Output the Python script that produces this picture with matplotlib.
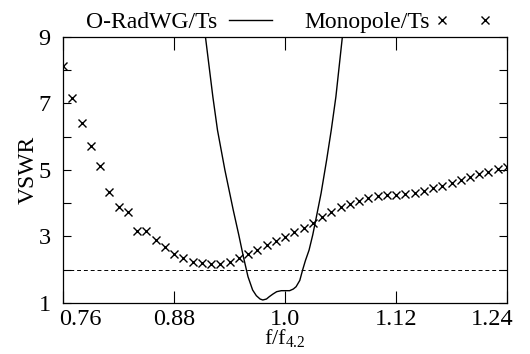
import matplotlib
matplotlib.use('Agg')
import matplotlib.pyplot as plt
from matplotlib.lines import Line2D
from matplotlib.legend_handler import HandlerLine2D
from matplotlib.transforms import ScaledTranslation

plt.rcParams['font.family'] = ['Liberation Serif', 'DejaVu Serif']
plt.rcParams['mathtext.fontset'] = 'custom'
plt.rcParams['mathtext.rm'] = 'Liberation Serif'
plt.rcParams['font.size'] = 17

# Monopole/Ts, one sample every 0.01 from 0.76 to 1.24
mono_f = [round(0.76 + 0.01 * i, 2) for i in range(49)]
mono_vswr = [8.14, 7.17, 6.40, 5.73, 5.12, 4.34, 3.90, 3.75, 3.17, 3.17,
             2.89, 2.67, 2.47, 2.35, 2.24, 2.19, 2.17, 2.18, 2.24, 2.34,
             2.48, 2.60, 2.74, 2.86, 2.99, 3.13, 3.27, 3.42, 3.58, 3.73,
             3.88, 3.97, 4.08, 4.16, 4.21, 4.24, 4.26, 4.28, 4.32, 4.38,
             4.45, 4.51, 4.60, 4.69, 4.79, 4.89, 4.95, 5.03, 5.08]

# O-RadWG/Ts
rad_f = [0.908, 0.914, 0.922, 0.927, 0.935, 0.944, 0.950, 0.955,
         0.960, 0.965, 0.969, 0.973, 0.976, 0.980, 0.983, 0.987, 0.991,
         0.996, 1.000, 1.005, 1.009, 1.012, 1.016, 1.019, 1.022, 1.026,
         1.030, 1.034, 1.039, 1.045, 1.050, 1.055, 1.062, 1.066]
rad_vswr = [10.3, 9.0, 7.2, 6.2, 5.0, 3.8, 3.05, 2.39,
            1.79, 1.39, 1.22, 1.12, 1.09, 1.12, 1.19, 1.27, 1.34,
            1.37, 1.37, 1.37, 1.42, 1.49, 1.68, 1.99, 2.27, 2.59,
            3.05, 3.60, 4.30, 5.30, 6.20, 7.20, 9.0, 10.1]

limit_vswr = 2.0

xticks = [0.76, 0.88, 1.0, 1.12, 1.24]
xtick_labels = ['0.76', '0.88', '1.0', '1.12', '1.24']
yticks = [1, 2, 3, 4, 5, 6, 7, 8, 9]
ytick_labels = ['1', '', '3', '', '5', '', '7', '', '9']

fig = plt.figure(figsize=(5.3, 3.54), dpi=100)
ax = fig.add_axes([0.1189, 0.1441, 0.8377, 0.7514])

ax.plot(rad_f, rad_vswr, color='black', lw=1.0, label='O-RadWG/Ts')
ax.plot(mono_f, mono_vswr, ls='none', marker='x', ms=6.2, mew=1.0,
        color='black', label='Monopole/Ts')
ax.axhline(limit_vswr, color='black', lw=0.7, dashes=(4, 3))

ax.set_xlim(0.76, 1.24)
ax.set_ylim(1, 9)
ax.set_xticks(xticks)
ax.set_xticklabels(xtick_labels, fontsize=17.5)
ax.set_yticks(yticks)
ax.set_yticklabels(ytick_labels, fontsize=17.5)
ax.tick_params(axis='x', direction='in', top=True, length=9, width=0.8, pad=4)
ax.tick_params(axis='y', direction='in', right=True, length=5.5, width=0.8, pad=9)
for s in ax.spines.values():
    s.set_linewidth(0.9)

ax.set_ylabel('VSWR', labelpad=0)
ax.set_xlabel('f/f$_{4.2}$', fontsize=16, labelpad=-1.5)

# pull the two end labels in from the corners
labels = ax.get_xticklabels()
labels[0].set_transform(labels[0].get_transform() + ScaledTranslation(0.17, 0, fig.dpi_scale_trans))
labels[-1].set_transform(labels[-1].get_transform() + ScaledTranslation(-0.15, 0, fig.dpi_scale_trans))

fig.legend(loc='center', bbox_to_anchor=(285.5 / 530, 1 - 22 / 354), ncol=2,
           frameon=False, markerfirst=False, numpoints=2, handlelength=1.85,
           handletextpad=0.5, columnspacing=1.35, borderpad=0, borderaxespad=0,
           handler_map={Line2D: HandlerLine2D(marker_pad=0)})

fig.savefig('out.png', dpi=100)
